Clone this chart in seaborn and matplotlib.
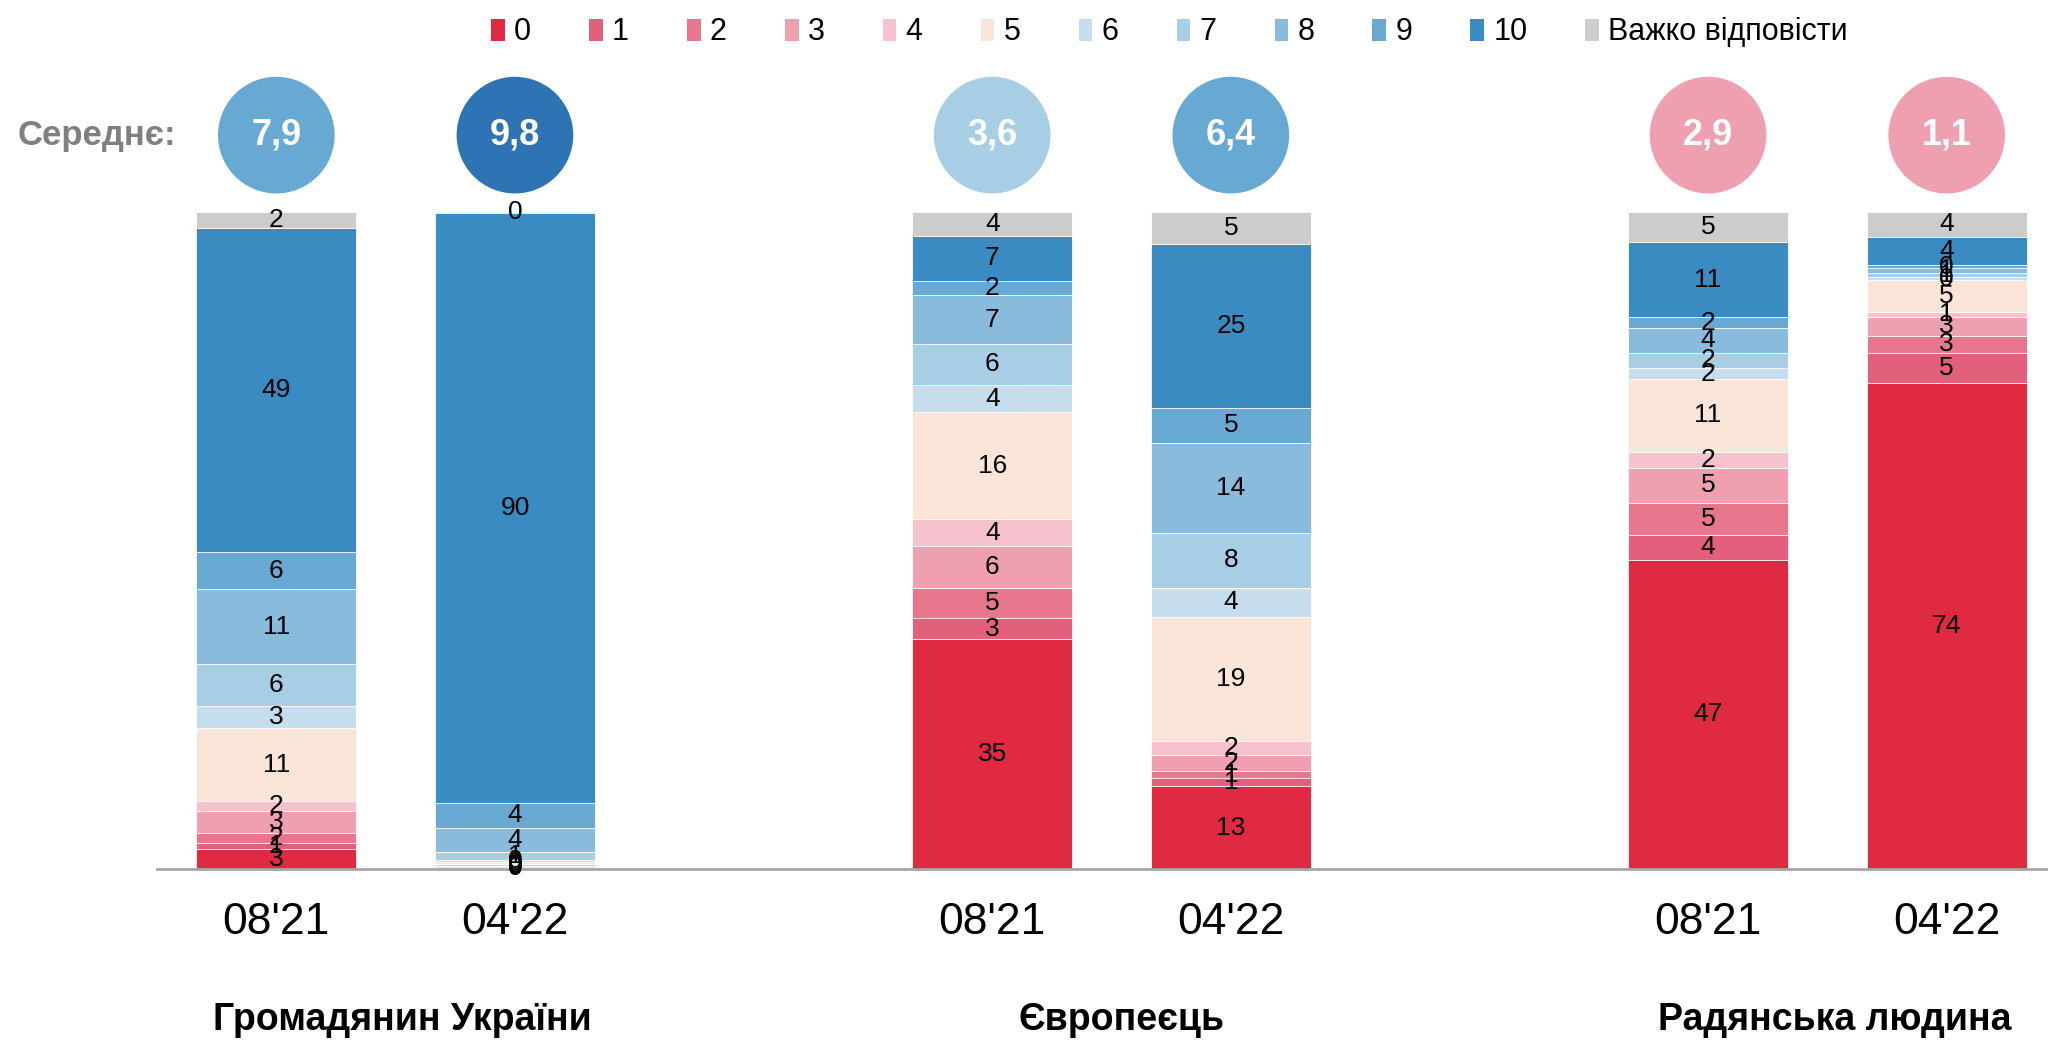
import numpy as np
import seaborn as sns
import matplotlib.pyplot as plt
from matplotlib.patches import Patch

# answer categories (bottom to top of every bar)
categories = ['0', '1', '2', '3', '4', '5', '6', '7', '8', '9', '10', 'Важко відповісти']
colors = ['#df2a42', '#e3607d', '#e8778d', '#eea0b1', '#f5c2cd', '#fbe5d9',
          '#c6ddee', '#a8cee6', '#89bbdc', '#67a9d3', '#3a8bc1', '#cccccc']

groups = ['Громадянин України', 'Європеєць', 'Радянська людина']
periods = ["08'21", "04'22", "08'21", "04'22", "08'21", "04'22"]
bar_x = [0, 1, 3, 4, 6, 7]

# shares (%) per bar, in category order
ukr_0821 = [3.0, 1.0, 1.5, 3.3, 1.6, 11.0, 3.4, 6.4, 11.4, 5.6, 49.4, 2.4]
ukr_0422 = [0.2, 0.1, 0.1, 0.1, 0.2, 0.4, 0.3, 1.2, 3.7, 3.8, 89.8, 0.1]
eur_0821 = [35.0, 3.2, 4.6, 6.4, 4.0, 16.3, 4.2, 6.2, 7.4, 2.2, 6.9, 3.6]
eur_0422 = [12.6, 1.2, 1.1, 2.4, 2.2, 18.9, 4.4, 8.4, 13.7, 5.3, 25.0, 4.8]
sov_0821 = [47.1, 3.8, 4.8, 5.4, 2.4, 11.1, 1.6, 2.4, 3.7, 1.7, 11.4, 4.6]
sov_0422 = [74.0, 4.6, 2.6, 2.8, 0.8, 4.8, 0.5, 0.6, 0.8, 0.4, 4.3, 3.8]

means = ['7,9', '9,8', '3,6', '6,4', '2,9', '1,1']
mean_colors = ['#67a9d3', '#2e73b4', '#a8cee6', '#67a9d3', '#eea0b1', '#eea0b1']

values = np.array([ukr_0821, ukr_0422, eur_0821, eur_0422, sov_0821, sov_0422])
cum = np.cumsum(values, axis=1)

sns.set_style('white')
plt.rcParams['font.family'] = ['Liberation Sans', 'DejaVu Sans']
plt.rcParams.update({'text.color': 'black', 'xtick.color': 'black',
                     'xtick.labelcolor': 'black'})

fig = plt.figure(figsize=(20.48, 10.44), dpi=100)
ax = fig.add_axes([157 / 2048, 175 / 1044, 1909 / 2048, 657 / 1044])

# stacked bars: draw cumulative totals from the top category down
for k in reversed(range(len(categories))):
    sns.barplot(x=bar_x, y=cum[:, k], native_scale=True, color=colors[k],
                saturation=1, width=0.67, errorbar=None,
                edgecolor='white', linewidth=0.6, ax=ax)

# segment labels
for i, x in enumerate(bar_x):
    for k in range(len(categories)):
        v = values[i, k]
        ax.text(x, cum[i, k] - v / 2, f'{v:.0f}', ha='center', va='center',
                fontsize=19, color='black')

# mean circles
ax.scatter(bar_x, [111.7] * 6, s=84 ** 2, c=mean_colors, clip_on=False,
           zorder=5, linewidths=0)
for x, m in zip(bar_x, means):
    ax.text(x, 111.7, m, ha='center', va='center', fontsize=26,
            fontweight='bold', color='white', zorder=6, clip_on=False)
fig.text(176 / 2048, 1 - 135 / 1044, 'Середнє:', ha='right', va='center',
         fontsize=25, fontweight='bold', color='#808080')

ax.set_xlim(-0.5, 7.5)
ax.set_ylim(0, 100)
ax.set_xticks(bar_x, periods)
ax.set_xticks(np.arange(-0.5, 8, 1), minor=True)
ax.tick_params(axis='x', which='major', length=0, pad=24, labelsize=32,
               labelcolor='black')
ax.tick_params(axis='x', which='minor', length=12, width=1, color='#a6a6a6',
               direction='out')
ax.set_yticks([])
ax.set_xlabel('')
ax.set_ylabel('')
for s in ['top', 'right', 'left']:
    ax.spines[s].set_visible(False)
ax.spines['bottom'].set_color('#a6a6a6')
ax.spines['bottom'].set_linewidth(2)

for gx, g in zip([0.53, 3.54, 6.53], groups):
    ax.text(gx, -0.23, g, transform=ax.get_xaxis_transform(), ha='center',
            va='center', fontsize=27, fontweight='bold', color='black',
            clip_on=False)

handles = [Patch(facecolor=c, edgecolor='none') for c in colors]
fig.legend(handles, categories, loc='center', bbox_to_anchor=(0.571, 0.969),
           ncol=12, frameon=False, fontsize=22, handlelength=0.45,
           handleheight=0.72, handletextpad=0.3, columnspacing=1.9,
           labelcolor='black')

fig.savefig('out.png', dpi=100)
